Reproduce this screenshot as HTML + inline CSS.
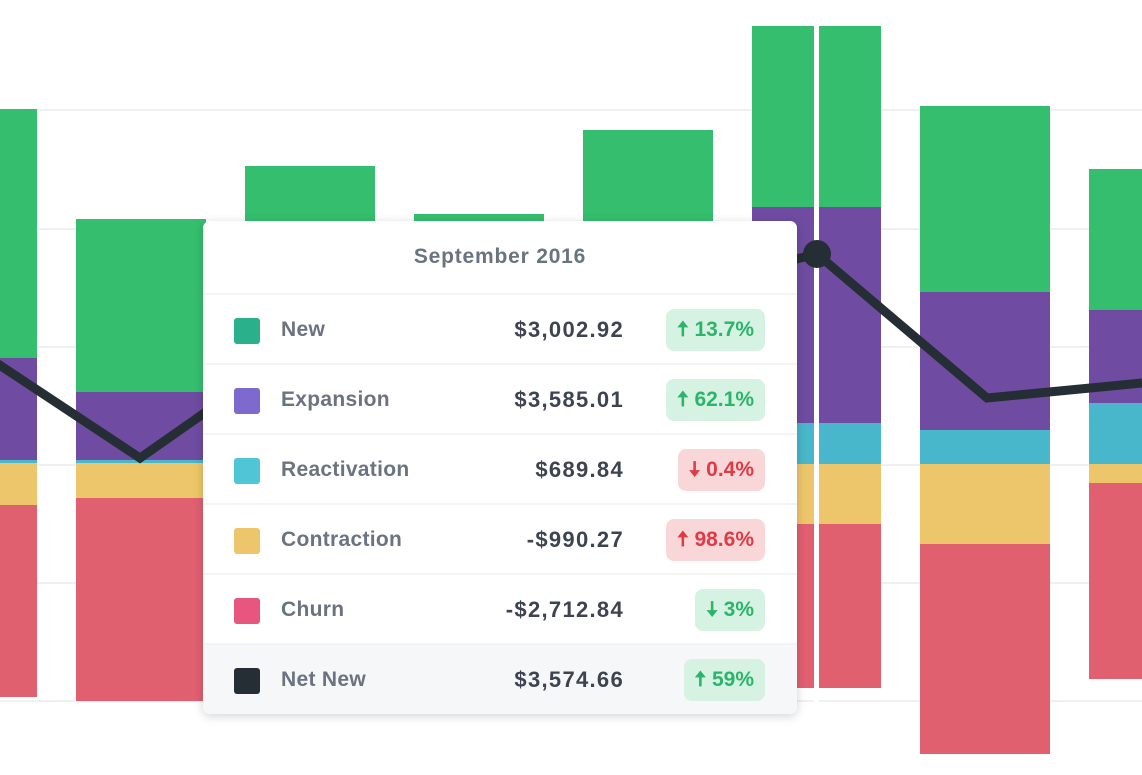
<!DOCTYPE html><html><head><style>
body{margin:0;width:1142px;height:775px;background:#fff;overflow:hidden;position:relative;font-family:"Liberation Sans",sans-serif}
.g{position:absolute;left:0;width:1142px;height:2px;background:#eef0f3}
.tt{position:absolute;left:203px;top:221px;width:594px;height:493px;background:#fff;border-radius:7px;box-shadow:0 2px 10px rgba(0,0,0,.18);overflow:hidden}
.hd{height:72px;line-height:72px;text-align:center;font-weight:bold;font-size:21px;letter-spacing:0.8px;color:#6b7280;border-bottom:2px solid #f3f4f6}
.r{position:relative;height:68px;border-bottom:2px solid #f3f4f6}
.r.l{background:#f5f7f9;border:none;height:71px}
.sw{position:absolute;left:31px;top:23px;width:26px;height:26px;border-radius:3px}
.lb{position:absolute;left:78px;top:0;line-height:70px;font-size:21px;letter-spacing:0.3px;font-weight:bold;color:#6b7280}
.v{position:absolute;right:173px;line-height:70px;font-size:22px;letter-spacing:1.3px;font-weight:bold;color:#3d4450}
.bd{position:absolute;right:32px;top:14px;height:42px;line-height:42px;padding:0 11px;border-radius:8px;font-size:21px;font-weight:bold}
.u{background:#d6f2e3;color:#2bb56a}.d{background:#f9d7d8;color:#e03a45}
</style></head><body>
<div class="g" style="top:109px"></div><div class="g" style="top:228px"></div><div class="g" style="top:346px"></div><div class="g" style="top:464px"></div><div class="g" style="top:582px"></div><div class="g" style="top:700px"></div>
<svg width="1142" height="775" style="position:absolute;left:0;top:0">
<g>
<rect x="0" y="109" width="37" height="249" fill="#35be6e"/><rect x="0" y="358" width="37" height="102" fill="#6f4ca1"/><rect x="0" y="460" width="37" height="3" fill="#48b6cb"/><rect x="0" y="463" width="37" height="42" fill="#edc56a"/><rect x="0" y="505" width="37" height="192" fill="#e06070"/>
<rect x="76" y="219" width="130" height="173" fill="#35be6e"/><rect x="76" y="392" width="130" height="68" fill="#6f4ca1"/><rect x="76" y="460" width="130" height="3" fill="#48b6cb"/><rect x="76" y="463" width="130" height="35" fill="#edc56a"/><rect x="76" y="498" width="130" height="203" fill="#e06070"/>
<rect x="245" y="166" width="130" height="100" fill="#35be6e"/>
<rect x="414" y="214" width="130" height="50" fill="#35be6e"/>
<rect x="583" y="130" width="130" height="130" fill="#35be6e"/>
<rect x="752" y="26" width="129" height="181" fill="#35be6e"/><rect x="752" y="207" width="129" height="216" fill="#6f4ca1"/><rect x="752" y="423" width="129" height="41" fill="#48b6cb"/><rect x="752" y="464" width="129" height="60" fill="#edc56a"/><rect x="752" y="524" width="129" height="164" fill="#e06070"/>
<rect x="920" y="106" width="130" height="186" fill="#35be6e"/><rect x="920" y="292" width="130" height="138" fill="#6f4ca1"/><rect x="920" y="430" width="130" height="34" fill="#48b6cb"/><rect x="920" y="464" width="130" height="80" fill="#edc56a"/><rect x="920" y="544" width="130" height="210" fill="#e06070"/>
<rect x="1089" y="169" width="53" height="141" fill="#35be6e"/><rect x="1089" y="310" width="53" height="93" fill="#6f4ca1"/><rect x="1089" y="403" width="53" height="61" fill="#48b6cb"/><rect x="1089" y="464" width="53" height="19" fill="#edc56a"/><rect x="1089" y="483" width="53" height="196" fill="#e06070"/>
<rect x="814" y="0" width="5" height="775" fill="#fff"/>
</g>
<polyline points="-5,362 140,458 230,395 817,254 987,398 1142,383" fill="none" stroke="#252d35" stroke-width="9" stroke-linejoin="miter"/>
<circle cx="817" cy="254" r="14" fill="#252d35"/>
</svg>
<div class="tt">
<div class="hd">September 2016</div>
<div class="r"><div class="sw" style="background:#2bb08c"></div><div class="lb">New</div><div class="v">$3,002.92</div><div class="bd u">🠅 13.7%</div></div>
<div class="r"><div class="sw" style="background:#7e6acf"></div><div class="lb">Expansion</div><div class="v">$3,585.01</div><div class="bd u">🠅 62.1%</div></div>
<div class="r"><div class="sw" style="background:#50c5d6"></div><div class="lb">Reactivation</div><div class="v">$689.84</div><div class="bd d">🠇 0.4%</div></div>
<div class="r"><div class="sw" style="background:#edc56a"></div><div class="lb">Contraction</div><div class="v">-$990.27</div><div class="bd d">🠅 98.6%</div></div>
<div class="r"><div class="sw" style="background:#e8557f"></div><div class="lb">Churn</div><div class="v">-$2,712.84</div><div class="bd u">🠇 3%</div></div>
<div class="r l"><div class="sw" style="background:#252d35"></div><div class="lb">Net New</div><div class="v">$3,574.66</div><div class="bd u">🠅 59%</div></div>
</div>
</body></html>
